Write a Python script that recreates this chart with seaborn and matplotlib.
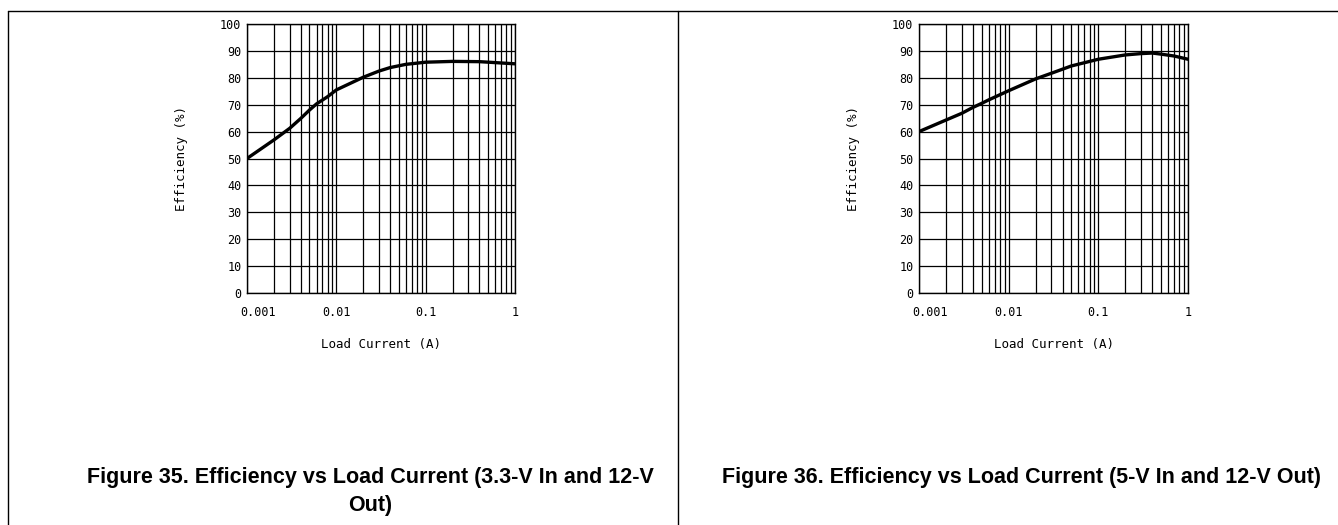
import matplotlib
matplotlib.use("Agg")
import matplotlib.pyplot as plt
import matplotlib.transforms as mtransforms
from matplotlib.lines import Line2D
from matplotlib.ticker import LogLocator, FixedLocator, NullFormatter
import numpy as np
import pandas as pd
import seaborn as sns

# values
current_35 = [0.001, 0.002, 0.003, 0.004, 0.005, 0.006, 0.008, 0.01, 0.02, 0.03, 0.04,
              0.06, 0.1, 0.2, 0.4, 1.0]
eff_35 = [50.0, 56.9, 61.2, 64.9, 68.0, 70.3, 73.0, 75.5, 80.2, 82.5, 83.8,
          85.0, 85.8, 86.1, 86.0, 85.2]

current_36 = [0.001, 0.002, 0.003, 0.004, 0.005, 0.006, 0.01, 0.02, 0.03, 0.05,
              0.1, 0.2, 0.3, 0.4, 0.5, 0.7, 1.0]
eff_36 = [60.0, 64.3, 66.8, 69.0, 70.5, 71.8, 75.2, 79.6, 81.7, 84.4,
          86.9, 88.5, 89.0, 89.2, 88.8, 88.1, 86.9]

x_ticks = [0.001, 0.01, 0.1, 1]
x_tick_labels = ["0.001", "0.01", "0.1", "1"]
y_ticks = list(range(0, 101, 10))

caption_35 = ["Figure 35. Efficiency vs Load Current (3.3-V In and 12-V", "Out)"]
caption_36 = "Figure 36. Efficiency vs Load Current (5-V In and 12-V Out)"

sns.set_style("white")
plt.rcParams['font.family'] = ['DejaVu Sans Mono', 'DejaVu Sans']
plt.rcParams['text.color'] = 'black'
plt.rcParams['axes.labelcolor'] = 'black'

W, H = 1338, 525
fig = plt.figure(figsize=(W / 100, H / 100), dpi=100)


def px_axes(x0, x1, y0, y1):
    return fig.add_axes([x0 / W, 1 - y1 / H, (x1 - x0) / W, (y1 - y0) / H])


def draw_panel(ax, current, eff):
    df = pd.DataFrame({"current": current, "eff": eff})
    sns.lineplot(data=df, x="current", y="eff", ax=ax, color="black", lw=2.4,
                 zorder=5)
    ax.set_xscale("log")
    ax.set_xlim(0.001, 1)
    ax.set_ylim(0, 100)
    ax.xaxis.set_major_locator(FixedLocator(x_ticks))
    ax.set_xticklabels(x_tick_labels)
    ax.xaxis.set_minor_locator(LogLocator(base=10, subs=np.arange(2, 10)))
    ax.xaxis.set_minor_formatter(NullFormatter())
    ax.set_yticks(y_ticks)
    ax.grid(which="both", axis="x", color="black", lw=0.9)
    ax.grid(which="major", axis="y", color="black", lw=0.9)
    for s in ax.spines.values():
        s.set_color("black")
        s.set_linewidth(1.0)
    ax.tick_params(which="both", length=0, labelsize=8.5, colors="black")
    ax.tick_params(axis="x", pad=9)
    ax.tick_params(axis="y", pad=4)
    # first x label sits a bit right of its grid line
    first = ax.get_xticklabels()[0]
    first.set_transform(first.get_transform() +
                        mtransforms.ScaledTranslation(11 / 100, 0, fig.dpi_scale_trans))
    ax.set_xlabel("Load Current (A)", fontsize=9)
    ax.set_ylabel("Efficiency (%)", fontsize=9)
    ax.xaxis.set_label_coords(0.5, -0.19)
    ax.xaxis.label.set_va("center")
    ax.yaxis.set_label_coords(-0.245, 0.5)
    ax.yaxis.label.set_va("center")


ax1 = px_axes(247, 515, 24, 293)
draw_panel(ax1, current_35, eff_35)
ax2 = px_axes(919, 1188, 24, 293)
draw_panel(ax2, current_36, eff_36)

# table cell borders
fig.add_artist(Line2D([8 / W, 1], [1 - 11 / H, 1 - 11 / H], color="black", lw=1.0))
fig.add_artist(Line2D([8 / W, 8 / W], [0, 1 - 11 / H], color="black", lw=1.0))
fig.add_artist(Line2D([678 / W, 678 / W], [0, 1 - 11 / H], color="black", lw=1.0))

cap_kw = dict(fontsize=15.5, fontweight="bold", family="Liberation Sans",
              va="baseline", color="black")
fig.text(370 / W, 1 - 483 / H, caption_35[0], ha="center", **cap_kw)
fig.text(370 / W, 1 - 511 / H, caption_35[1], ha="center", **cap_kw)
fig.text(722 / W, 1 - 483 / H, caption_36, ha="left", **cap_kw)

fig.savefig("out.png", dpi=100)
